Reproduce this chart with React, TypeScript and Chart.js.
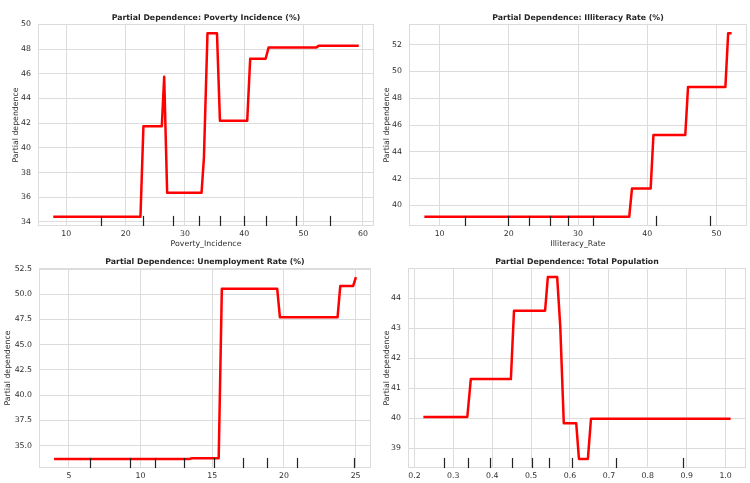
import React, { useEffect, useRef } from "react";
import { Chart, registerables } from "chart.js";

Chart.register(...registerables);

const FONT_FAMILY = "'DejaVu Sans', 'Liberation Sans', sans-serif";
const FONT_SIZE = 7.8;
const TEXT_COLOR = "#2e2e2e";
const GRID_COLOR = "#dcdcdc";
const LINE_COLOR = "#ff0000";
const RUG_COLOR = "#222222";

// Poverty incidence (%)
const povertyX = [7.8, 22.5, 23.0, 26.1, 26.5, 27.0, 32.8, 33.2, 33.8, 35.4, 35.9, 40.5, 41.0, 43.6, 44.1, 52.1, 52.6, 59.3];
const povertyY = [34.41, 34.41, 41.75, 41.75, 45.75, 36.37, 36.37, 39.2, 49.29, 49.29, 42.2, 42.2, 47.22, 47.22, 48.12, 48.12, 48.28, 48.28];
const povertyDeciles = [15.9, 23.0, 28.0, 32.4, 35.9, 40.0, 43.7, 48.8, 54.4];
const povertyXTicks = [10, 20, 30, 40, 50, 60];
const povertyYTicks = [34, 36, 38, 40, 42, 44, 46, 48, 50];

// Illiteracy rate (%)
const illiteracyX = [7.8, 37.4, 37.8, 40.5, 40.9, 45.5, 45.9, 51.3, 51.7, 52.2];
const illiteracyY = [39.15, 39.15, 41.26, 41.26, 45.25, 45.25, 48.84, 48.84, 52.85, 52.85];
const illiteracyDeciles = [13.7, 19.9, 22.9, 25.9, 28.6, 32.2, 41.2, 49.1];
const illiteracyXTicks = [10, 20, 30, 40, 50];
const illiteracyYTicks = [40, 42, 44, 46, 48, 50, 52];

// Unemployment rate (%)
const unemploymentX = [3.97, 13.4, 13.6, 15.45, 15.67, 19.53, 19.72, 23.74, 23.93, 24.83, 25.02];
const unemploymentY = [33.68, 33.68, 33.74, 33.74, 50.55, 50.55, 47.71, 47.71, 50.82, 50.82, 51.7];
const unemploymentDeciles = [6.46, 9.23, 11.0, 13.0, 15.1, 17.17, 18.8, 20.88, 24.89];
const unemploymentXTicks = [5, 10, 15, 20, 25];
const unemploymentYTicks = [35, 37.5, 40, 42.5, 45, 47.5, 50, 52.5];

// Total population (scaled)
const populationX = [0.223, 0.336, 0.345, 0.448, 0.456, 0.536, 0.543, 0.567, 0.575, 0.584, 0.616, 0.623, 0.646, 0.654, 1.013];
const populationY = [40.04, 40.04, 41.3, 41.3, 43.58, 43.58, 44.7, 44.7, 43.04, 39.83, 39.83, 38.64, 38.64, 39.98, 39.98];
const populationDeciles = [0.276, 0.339, 0.395, 0.452, 0.502, 0.547, 0.605, 0.718, 0.8915];
const populationXTicks = [0.2, 0.3, 0.4, 0.5, 0.6, 0.7, 0.8, 0.9, 1.0];
const populationYTicks = [39, 40, 41, 42, 43, 44];

type Box = { left: number; top: number; width: number; height: number };
type Area = { left: number; top: number; right: number; bottom: number };

type PanelProps = {
  title: string;
  xLabel: string | null;
  xs: number[];
  ys: number[];
  deciles: number[];
  xTicks: number[];
  yTicks: number[];
  xDecimals: number;
  yDecimals: number;
  box: Box;
  area: Area;
  titleY: number;
  yLabelX: number;
  xLabelY: number;
};

// matplotlib-style autoscale: data extent plus 5% on both sides
function withMargins(values: number[]): [number, number] {
  const lo = Math.min(...values);
  const hi = Math.max(...values);
  const m = (hi - lo) * 0.05;
  return [lo - m, hi + m];
}

function Panel(props: PanelProps) {
  const ref = useRef<HTMLCanvasElement | null>(null);

  useEffect(() => {
    const canvas = ref.current;
    if (!canvas) return;
    const { xs, ys, deciles, xTicks, yTicks, box, area } = props;
    const [xMin, xMax] = withMargins(xs);
    const [yMin, yMax] = withMargins(ys);
    const font = { family: FONT_FAMILY, size: FONT_SIZE };

    const decor = {
      id: "decor",
      beforeDatasetsDraw(chart: any) {
        const { ctx, chartArea: a } = chart;
        ctx.save();
        ctx.strokeStyle = GRID_COLOR;
        ctx.lineWidth = 1;
        ctx.strokeRect(a.left + 0.5, a.top + 0.5, a.right - a.left - 1, a.bottom - a.top - 1);
        ctx.restore();
      },
      afterDatasetsDraw(chart: any) {
        const { ctx, chartArea: a, scales } = chart;
        const h = (a.bottom - a.top) * 0.05;
        ctx.save();
        ctx.strokeStyle = RUG_COLOR;
        ctx.lineWidth = 1.2;
        deciles.forEach((d) => {
          const px = Math.round(scales.x.getPixelForValue(d)) + 0.5;
          ctx.beginPath();
          ctx.moveTo(px, a.bottom);
          ctx.lineTo(px, a.bottom - h);
          ctx.stroke();
        });
        ctx.restore();
      },
      afterDraw(chart: any) {
        const { ctx, chartArea: a } = chart;
        const cx = (a.left + a.right) / 2;
        const cy = (a.top + a.bottom) / 2;
        ctx.save();
        ctx.fillStyle = "#262626";
        ctx.textAlign = "center";
        ctx.textBaseline = "middle";
        ctx.font = `bold ${FONT_SIZE}px ${FONT_FAMILY}`;
        ctx.fillText(props.title, cx, props.titleY);
        ctx.fillStyle = TEXT_COLOR;
        ctx.font = `${FONT_SIZE}px ${FONT_FAMILY}`;
        if (props.xLabel) ctx.fillText(props.xLabel, cx, props.xLabelY);
        ctx.translate(props.yLabelX, cy);
        ctx.rotate(-Math.PI / 2);
        ctx.fillText("Partial dependence", 0, 0);
        ctx.restore();
      },
    };

    const chart = new Chart(canvas, {
      type: "scatter",
      data: {
        datasets: [
          {
            data: xs.map((x, i) => ({ x, y: ys[i] })),
            showLine: true,
            borderColor: LINE_COLOR,
            backgroundColor: LINE_COLOR,
            borderWidth: 2.5,
            borderJoinStyle: "round",
            pointRadius: 0,
            pointHoverRadius: 0,
            tension: 0,
            fill: false,
          },
        ],
      },
      options: {
        responsive: false,
        animation: false,
        events: [],
        layout: {
          padding: { left: 0, top: area.top, right: box.width - area.right, bottom: 0 },
        },
        plugins: {
          legend: { display: false },
          tooltip: { enabled: false },
          title: { display: false },
        },
        scales: {
          x: {
            type: "linear",
            min: xMin,
            max: xMax,
            afterBuildTicks: (s: any) => {
              s.ticks = xTicks.map((v) => ({ value: v }));
            },
            afterFit: (s: any) => {
              s.height = box.height - area.bottom;
            },
            grid: { color: GRID_COLOR, lineWidth: 1, drawTicks: false },
            border: { display: false },
            ticks: {
              color: TEXT_COLOR,
              font,
              padding: 3,
              maxRotation: 0,
              autoSkip: false,
              callback: (v: any) => Number(v).toFixed(props.xDecimals),
            },
          },
          y: {
            type: "linear",
            min: yMin,
            max: yMax,
            afterBuildTicks: (s: any) => {
              s.ticks = yTicks.map((v) => ({ value: v }));
            },
            afterFit: (s: any) => {
              s.width = area.left;
            },
            grid: { color: GRID_COLOR, lineWidth: 1, drawTicks: false },
            border: { display: false },
            ticks: {
              color: TEXT_COLOR,
              font,
              padding: 7,
              autoSkip: false,
              callback: (v: any) => Number(v).toFixed(props.yDecimals),
            },
          },
        },
      },
      plugins: [decor],
    } as any);

    return () => chart.destroy();
  }, []);

  const { box } = props;
  return (
    <canvas
      ref={ref}
      width={box.width}
      height={box.height}
      style={{ position: "absolute", left: box.left, top: box.top, width: box.width, height: box.height }}
    />
  );
}

export default function App() {
  return (
    <div style={{ position: "absolute", left: 0, top: 0, width: 750, height: 483, background: "#ffffff", overflow: "hidden" }}>
      <Panel
        title="Partial Dependence: Poverty Incidence (%)"
        xLabel="Poverty_Incidence"
        xs={povertyX}
        ys={povertyY}
        deciles={povertyDeciles}
        xTicks={povertyXTicks}
        yTicks={povertyYTicks}
        xDecimals={0}
        yDecimals={0}
        box={{ left: 0, top: 0, width: 375, height: 250 }}
        area={{ left: 38, top: 24, right: 374, bottom: 226 }}
        titleY={18}
        yLabelX={15.5}
        xLabelY={244}
      />
      <Panel
        title="Partial Dependence: Illiteracy Rate (%)"
        xLabel="Illiteracy_Rate"
        xs={illiteracyX}
        ys={illiteracyY}
        deciles={illiteracyDeciles}
        xTicks={illiteracyXTicks}
        yTicks={illiteracyYTicks}
        xDecimals={0}
        yDecimals={0}
        box={{ left: 375, top: 0, width: 375, height: 250 }}
        area={{ left: 34, top: 24, right: 372, bottom: 226 }}
        titleY={18}
        yLabelX={11.7}
        xLabelY={244}
      />
      <Panel
        title="Partial Dependence: Unemployment Rate (%)"
        xLabel={null}
        xs={unemploymentX}
        ys={unemploymentY}
        deciles={unemploymentDeciles}
        xTicks={unemploymentXTicks}
        yTicks={unemploymentYTicks}
        xDecimals={0}
        yDecimals={1}
        box={{ left: 0, top: 250, width: 375, height: 233 }}
        area={{ left: 39, top: 18, right: 371, bottom: 218 }}
        titleY={11.7}
        yLabelX={8.3}
        xLabelY={244}
      />
      <Panel
        title="Partial Dependence: Total Population"
        xLabel={null}
        xs={populationX}
        ys={populationY}
        deciles={populationDeciles}
        xTicks={populationXTicks}
        yTicks={populationYTicks}
        xDecimals={1}
        yDecimals={0}
        box={{ left: 375, top: 250, width: 375, height: 233 }}
        area={{ left: 33, top: 18, right: 371, bottom: 218 }}
        titleY={11.7}
        yLabelX={11.7}
        xLabelY={244}
      />
    </div>
  );
}
